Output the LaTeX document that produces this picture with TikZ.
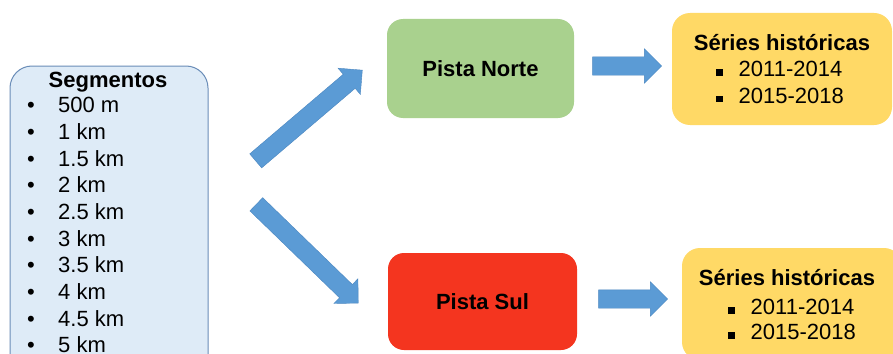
\documentclass[tikz,border=0pt]{standalone}
\usepackage{fontspec}
\setmainfont{Liberation Sans}
\usetikzlibrary{shapes.arrows}

\definecolor{segfill}{HTML}{DEEBF7}
\definecolor{segedge}{HTML}{6A8DB8}
\definecolor{nortefill}{HTML}{A9D18E}
\definecolor{sulfill}{HTML}{F4351F}
\definecolor{seriefill}{HTML}{FFD966}
\definecolor{arrowfill}{HTML}{5B9BD5}
\definecolor{arrowedge}{HTML}{4A86C0}

\tikzset{
  every node/.style={font=\fontsize{22}{26}\selectfont, inner sep=0pt},
  boxbase/.style={rectangle, rounded corners=#1},
  segbox/.style={boxbase=22pt, fill=segfill, draw=segedge, line width=1pt},
  pistabox/.style={boxbase=16pt},
  seriebox/.style={boxbase=18pt, fill=seriefill},
  title/.style={font=\fontsize{22}{26}\selectfont\bfseries, anchor=base},
  item/.style={anchor=base west},
  dot/.style={anchor=base west},
  blockarrow/.style={single arrow, fill=arrowfill, draw=arrowedge, line width=0.4pt,
    inner sep=9pt, single arrow head extend=8pt, single arrow head indent=0pt,
    single arrow tip angle=90, minimum height=#1},
}
\newcommand{\sqbullet}{\rule[1pt]{6.5pt}{6.5pt}}

\begin{document}
\begin{tikzpicture}[x=1pt, y=-1pt]
  \clip (0,0) rectangle (893,353);
  \fill[white] (0,0) rectangle (893,353);

  % Segment list box (runs past the lower edge)
  \node[segbox, minimum width=198pt, minimum height=320pt] (seg) at (109,226) {};
  \node[title] (segtitle) at (108,87) {Segmentos};
  \foreach \t [count=\i from 0] in {500 m,1 km,1.5 km,2 km,2.5 km,3 km,3.5 km,4 km,4.5 km,5 km} {
    \node[dot]  (segdot\i)  at (27,112.7+26.67*\i) {•};
    \node[item] (segitem\i) at (58,112.7+26.67*\i) {\t};
  }

  % Runways
  \node[pistabox, fill=nortefill, minimum width=187pt, minimum height=99pt] (norte) at (480.5,68.5)
    {\bfseries Pista Norte};
  \node[pistabox, fill=sulfill, minimum width=189pt, minimum height=97pt] (sul) at (482.5,301.5)
    {\bfseries Pista Sul};

  % Historical series, north
  \node[seriebox, minimum width=220pt, minimum height=112pt] (serieN) at (782,69) {};
  \node[title] (serieNtitle) at (782,50.7) {Séries históricas};
  \node[item] (serieNa) at (716,76.7) {\sqbullet\hspace{16pt}2011-2014};
  \node[item] (serieNb) at (716,103.3) {\sqbullet\hspace{16pt}2015-2018};

  % Historical series, south
  \node[seriebox, minimum width=220pt, minimum height=112pt] (serieS) at (792,304) {};
  \node[title] (serieStitle) at (787,285) {Séries históricas};
  \node[item] (serieSa) at (728,314.5) {\sqbullet\hspace{16pt}2011-2014};
  \node[item] (serieSb) at (728,339.5) {\sqbullet\hspace{16pt}2015-2018};

  % Block arrows
  \node[blockarrow=140pt, rotate=40.4]  (upArrow)   at (305.5,118.5) {};
  \node[blockarrow=142pt, rotate=-44.1] (downArrow) at (304,250.5) {};
  \node[blockarrow=69pt] (norteArrow) at (622.5,66) {};
  \node[blockarrow=69pt] (sulArrow)   at (628.5,299) {};
\end{tikzpicture}
\end{document}
